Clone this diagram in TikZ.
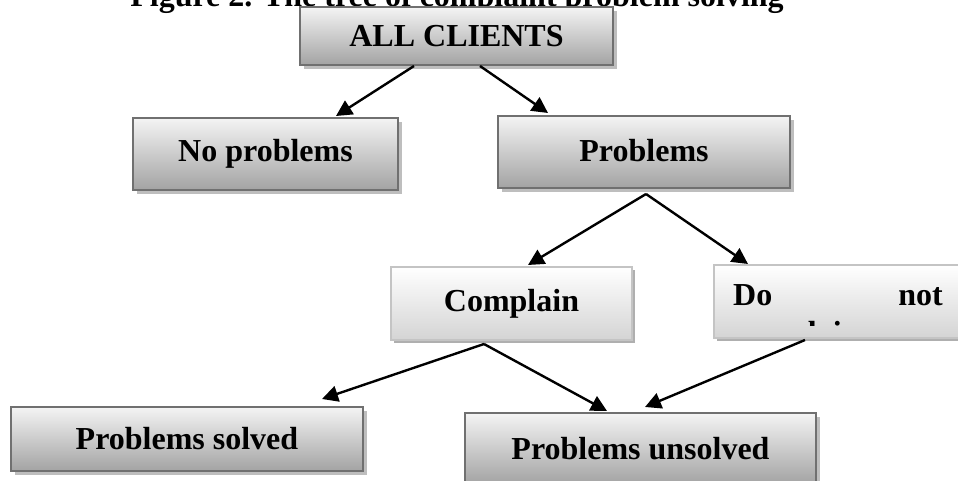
\documentclass[tikz,border=0pt]{standalone}
\usepackage{fontspec}
\setmainfont{Liberation Serif}
\usetikzlibrary{arrows.meta,shadows}
\definecolor{darktop}{HTML}{F4F4F4}
\definecolor{darkbot}{HTML}{A3A3A3}
\definecolor{darkborder}{HTML}{707070}
\definecolor{darkshadow}{HTML}{BEBEBE}
\definecolor{lighttop}{HTML}{FFFFFF}
\definecolor{lightbot}{HTML}{D4D4D4}
\definecolor{lightborder}{HTML}{C4C4C4}
\definecolor{lightshadow}{HTML}{AFAFAF}
\begin{document}
\begin{tikzpicture}[x=1pt,y=-1pt,
  txt/.style={font=\fontsize{32}{37}\selectfont\bfseries, inner sep=0pt, text=black},
  darkbox/.style={txt, draw=darkborder, line width=2pt, top color=darktop, bottom color=darkbot,
    drop shadow={fill=darkshadow, shadow xshift=4pt, shadow yshift=-4pt, opacity=1}},
  lightbox/.style={txt, draw=lightborder, line width=2pt, top color=lighttop, bottom color=lightbot,
    drop shadow={fill=lightshadow, shadow xshift=3pt, shadow yshift=-3pt, opacity=1}},
  conn/.style={line width=2.4pt, -{Triangle[length=16pt,width=16pt]}}]
\useasboundingbox (0,0) rectangle (958,481);
\clip (0,0) rectangle (958,481);
% title
\node[txt, anchor=base] (title) at (457,7) {Figure 2. The tree of complaint problem solving};
% boxes
\node[darkbox, minimum width=313pt, minimum height=58pt] (all) at (456.5,36) {ALL CLIENTS};
\node[darkbox, minimum width=265pt, minimum height=72pt] (noprob) at (265.5,154) {\raisebox{3pt}{No problems}};
\node[darkbox, minimum width=292pt, minimum height=72pt] (prob) at (644,152) {\raisebox{3pt}{Problems}};
\node[lightbox, minimum width=241pt, minimum height=73pt] (compl) at (511.5,303.5) {Complain};
\node[lightbox, minimum width=248pt, minimum height=73pt] (donot) at (838,301.5) {};
\node[txt, anchor=base west] (dotxt1) at (733,305) {Do};
\node[txt, anchor=base east] (dotxt2) at (943,305) {not};
\begin{scope}
  \clip (716,267) rectangle (960,325);
  \node[txt, anchor=base west] (dotxt3) at (733,343) {complain};
\end{scope}
\node[darkbox, minimum width=352pt, minimum height=64pt] (psolved) at (187,439) {Problems solved};
\node[darkbox, minimum width=351pt, minimum height=71pt] (punsolved) at (640.5,448.5) {Problems unsolved};
% connectors
\draw[conn] ([xshift=-42.5pt]all.south) -- ([xshift=70.5pt,yshift=1pt]noprob.north);
\draw[conn] ([xshift=23.5pt]all.south) -- ([xshift=-96pt,yshift=2pt]prob.north);
\draw[conn] ([xshift=2pt,yshift=-5pt]prob.south) -- ([xshift=16.5pt,yshift=1pt]compl.north);
\draw[conn] ([xshift=2pt,yshift=-5pt]prob.south) -- ([xshift=-90pt]donot.north);
\draw[conn] ([xshift=-27.5pt,yshift=-3pt]compl.south) -- ([xshift=135pt,yshift=7pt]psolved.north);
\draw[conn] ([xshift=-27.5pt,yshift=-3pt]compl.south) -- ([xshift=-33.5pt,yshift=1pt]punsolved.north);
\draw[conn] ([xshift=-33pt,yshift=-1pt]donot.south) -- ([xshift=4.5pt,yshift=5pt]punsolved.north);
\end{tikzpicture}
\end{document}
